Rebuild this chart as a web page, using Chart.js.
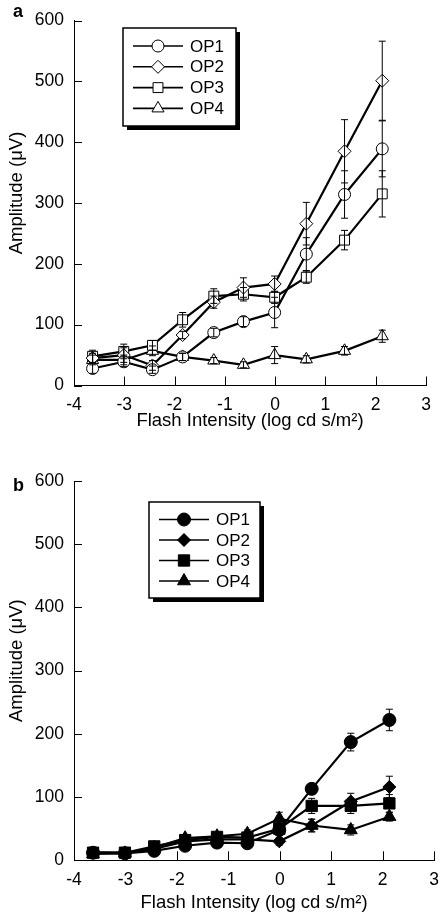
<!DOCTYPE html>
<html>
<head>
<meta charset="utf-8">
<script src="https://cdn.jsdelivr.net/npm/chart.js@4.4.0/dist/chart.umd.min.js"></script>
<style>
body{margin:0;background:#fff;}
#wrap{position:relative;width:448px;height:922px;}
canvas{position:absolute;left:0;}
</style>
</head>
<body>
<div id="wrap">
<canvas id="chartA" width="448" height="460" style="top:0"></canvas>
<canvas id="chartB" width="448" height="462" style="top:460px"></canvas>
</div>
<script>
// flash intensities (log cd s/m2)
var intensity = [-3.63, -3.01, -2.44, -1.84, -1.22, -0.63, -0.01, 0.62, 1.38, 2.13];
var names = ['OP1', 'OP2', 'OP3', 'OP4'];
var yTicks = [0, 100, 200, 300, 400, 500, 600];
var xTicks = [-4, -3, -2, -1, 0, 1, 2, 3];

// panel a
var a_op1 = [28, 39, 26, 47, 87, 105, 120, 216, 314, 389];
var a_op2 = [45, 50, 33, 83, 137, 161, 167, 266, 385, 501];
var a_op3 = [48, 56, 66, 108, 147, 150, 145, 178, 239, 315];
var a_op4 = [42, 42, 57, 47, 41, 34, 50, 43, 57, 81];
var a_err1 = [8, 8, 6, 6, 7, 8, 25, 27, 39, 46];
var a_err2 = [8, 12, 8, 6, 10, 16, 13, 35, 52, 65];
var a_err3 = [10, 12, 8, 12, 12, 11, 10, 10, 16, 38];
var a_err4 = [8, 8, 8, 6, 5, 5, 14, 6, 7, 10];

// panel b
var b_op1 = [12, 11, 15, 23, 28, 27, 48, 113, 187, 222];
var b_op2 = [12, 12, 18, 30, 33, 33, 30, 55, 93, 116];
var b_op3 = [12, 12, 22, 32, 37, 36, 50, 86, 86, 90];
var b_op4 = [10, 11, 20, 35, 38, 42, 66, 55, 48, 69];
var b_err1 = [4, 4, 4, 5, 6, 6, 8, 8, 14, 17];
var b_err2 = [3, 3, 4, 5, 5, 6, 6, 10, 13, 17];
var b_err3 = [3, 3, 4, 5, 6, 6, 7, 12, 12, 14];
var b_err4 = [3, 3, 4, 5, 6, 6, 10, 10, 8, 7];

var styles = ['circle', 'rectRot', 'rect', 'triangle'];
var radiiA = [6, 6.5, 7, 7];
var radiiB = [6.5, 6.5, 8, 7.5];
var FONT = "'Liberation Sans', Arial, sans-serif";

Chart.defaults.font.family = FONT;
Chart.defaults.font.size = 17.5;
Chart.defaults.color = '#000';

function makeSet(i, vals, errs, filled, radii) {
  return {
    label: names[i],
    data: intensity.map(function(x, k){ return {x: x, y: vals[k]}; }),
    errors: errs,
    showLine: true,
    borderColor: '#000',
    borderWidth: 2.2,
    pointStyle: styles[i],
    pointRadius: radii[i],
    pointBorderWidth: 1,
    pointBorderColor: '#000',
    pointBackgroundColor: filled ? '#000' : '#fff'
  };
}

// inward ticks, error bars, boxed legend, y title and the panel letter
var extras = {
  id: 'extras',
  afterDatasetsDraw: function(chart) {
    var ctx = chart.ctx, ys = chart.scales.y;
    ctx.save();
    ctx.strokeStyle = '#000';
    ctx.lineWidth = 1;
    chart.data.datasets.forEach(function(ds, d) {
      var meta = chart.getDatasetMeta(d);
      meta.data.forEach(function(pt, k) {
        var v = ds.data[k].y, e = ds.errors[k];
        var top = ys.getPixelForValue(v + e), bot = ys.getPixelForValue(v - e);
        ctx.beginPath();
        ctx.moveTo(pt.x, top); ctx.lineTo(pt.x, bot);
        ctx.moveTo(pt.x - 3.5, top); ctx.lineTo(pt.x + 3.5, top);
        ctx.moveTo(pt.x - 3.5, bot); ctx.lineTo(pt.x + 3.5, bot);
        ctx.stroke();
      });
    });
    ctx.restore();
  },
  afterDraw: function(chart, args, opts) {
    var ctx = chart.ctx, xs = chart.scales.x, ys = chart.scales.y;
    var area = chart.chartArea;
    ctx.save();
    ctx.strokeStyle = '#000';
    ctx.lineWidth = 1;
    ctx.beginPath();
    xs.ticks.forEach(function(t) {
      var px = Math.round(xs.getPixelForValue(t.value)) + 0.5;
      ctx.moveTo(px, area.bottom); ctx.lineTo(px, area.bottom - 9);
    });
    ys.ticks.forEach(function(t) {
      var py = Math.round(ys.getPixelForValue(t.value)) + 0.5;
      ctx.moveTo(area.left, py); ctx.lineTo(area.left + 8, py);
    });
    ctx.stroke();

    // y axis title, sits a little above the axis centre
    ctx.save();
    ctx.translate(16.5, (area.top + area.bottom) / 2 - 10);
    ctx.rotate(-Math.PI / 2);
    ctx.fillStyle = '#000';
    ctx.font = '18.5px ' + FONT;
    ctx.textAlign = 'center';
    ctx.textBaseline = 'middle';
    ctx.fillText('Amplitude (\u03bcV)', 0, 0);
    ctx.restore();

    // legend box with drop shadow
    var L = opts.legend;
    ctx.fillStyle = '#000';
    ctx.fillRect(L.x + 4, L.y + 4, L.w, L.h);
    ctx.fillStyle = '#fff';
    ctx.fillRect(L.x, L.y, L.w, L.h);
    ctx.lineWidth = 1.5;
    ctx.strokeRect(L.x, L.y, L.w, L.h);
    chart.data.datasets.forEach(function(ds, d) {
      var y = L.y + L.first + d * L.step;
      ctx.lineWidth = 1.6;
      ctx.strokeStyle = '#000';
      ctx.beginPath();
      ctx.moveTo(L.x + 10, y); ctx.lineTo(L.x + 60, y);
      ctx.stroke();
      ctx.fillStyle = ds.pointBackgroundColor;
      ctx.lineWidth = 1;
      Chart.helpers.drawPoint(ctx, {pointStyle: ds.pointStyle, radius: ds.pointRadius, rotation: 0, borderWidth: 1}, L.x + 35, y);
      ctx.fillStyle = '#000';
      ctx.font = '17px ' + FONT;
      ctx.textBaseline = 'middle';
      ctx.textAlign = 'left';
      ctx.fillText(ds.label, L.x + 67, y + 1);
    });

    ctx.font = 'bold 18px ' + FONT;
    ctx.textBaseline = 'alphabetic';
    ctx.fillText(opts.letter, 13, opts.letterY);
    ctx.restore();
  }
};

function makeOptions(pad, xHeight, titleBottom, legend, letter, letterY) {
  return {
    responsive: false,
    animation: false,
    layout: {padding: pad},
    plugins: {
      legend: {display: false},
      tooltip: {enabled: false},
      extras: {legend: legend, letter: letter, letterY: letterY}
    },
    scales: {
      x: {
        type: 'linear', min: -4, max: 3,
        afterBuildTicks: function(s){ s.ticks = xTicks.map(function(v){ return {value: v}; }); },
        afterFit: function(s){ s.height = xHeight; },
        grid: {display: false, drawTicks: false},
        border: {display: true, color: '#000', width: 1},
        ticks: {padding: 9},
        title: {display: true, text: 'Flash Intensity (log cd s/m\u00b2)', font: {size: 18.5}, padding: {top: 0, bottom: titleBottom}}
      },
      y: {
        type: 'linear', min: 0, max: 600,
        afterBuildTicks: function(s){ s.ticks = yTicks.map(function(v){ return {value: v}; }); },
        afterFit: function(s){ s.width = 74; },
        grid: {display: false, drawTicks: false},
        border: {display: true, color: '#000', width: 1},
        ticks: {padding: 10}
      }
    }
  };
}

new Chart(document.getElementById('chartA'), {
  type: 'scatter',
  data: {datasets: [
    makeSet(0, a_op1, a_err1, false, radiiA),
    makeSet(1, a_op2, a_err2, false, radiiA),
    makeSet(2, a_op3, a_err3, false, radiiA),
    makeSet(3, a_op4, a_err4, false, radiiA)
  ]},
  options: makeOptions({top: 11, right: 22, bottom: 0, left: 0}, 74.5, 28,
    {x: 123, y: 28, w: 113, h: 98, first: 18, step: 20.8}, 'a', 17),
  plugins: [extras]
});

new Chart(document.getElementById('chartB'), {
  type: 'scatter',
  data: {datasets: [
    makeSet(0, b_op1, b_err1, true, radiiB),
    makeSet(1, b_op2, b_err2, true, radiiB),
    makeSet(2, b_op3, b_err3, true, radiiB),
    makeSet(3, b_op4, b_err4, true, radiiB)
  ]},
  options: makeOptions({top: 21, right: 10, bottom: 0, left: 0}, 61.7, 7.5,
    {x: 149, y: 42, w: 111, h: 96, first: 17.5, step: 20.5}, 'b', 31),
  plugins: [extras]
});
</script>
</body>
</html>
